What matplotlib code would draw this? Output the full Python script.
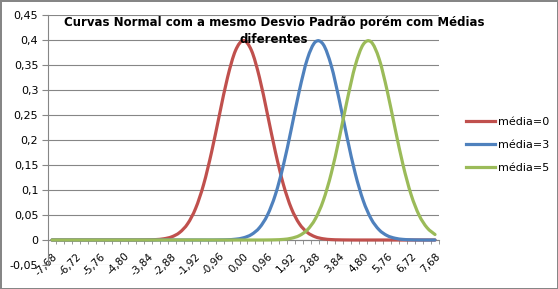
import matplotlib
matplotlib.use("Agg")
import matplotlib.pyplot as plt
from matplotlib.path import Path
from matplotlib.patches import PathPatch
from matplotlib.lines import Line2D

# categorias do eixo x (passo 0,32)
x_vals = [-7.68, -7.36, -7.04, -6.72, -6.40, -6.08, -5.76, -5.44, -5.12, -4.80,
          -4.48, -4.16, -3.84, -3.52, -3.20, -2.88, -2.56, -2.24, -1.92, -1.60,
          -1.28, -0.96, -0.64, -0.32, 0.00, 0.32, 0.64, 0.96, 1.28, 1.60,
          1.92, 2.24, 2.56, 2.88, 3.20, 3.52, 3.84, 4.16, 4.48, 4.80,
          5.12, 5.44, 5.76, 6.08, 6.40, 6.72, 7.04, 7.36, 7.68]

media0 = [0, 0, 0, 0, 0, 0, 0, 0, 0, 0,
          0, 0.0001, 0.0003, 0.0008, 0.0024, 0.0063, 0.0151, 0.0325, 0.0632, 0.1109,
          0.1759, 0.2516, 0.3251, 0.3790, 0.3989, 0.3790, 0.3251, 0.2516, 0.1759, 0.1109,
          0.0632, 0.0325, 0.0151, 0.0063, 0.0024, 0.0008, 0.0003, 0.0001, 0, 0,
          0, 0, 0, 0, 0, 0, 0, 0, 0]

media3 = [0, 0, 0, 0, 0, 0, 0, 0, 0, 0,
          0, 0, 0, 0, 0, 0, 0, 0, 0, 0,
          0, 0.0002, 0.0005, 0.0016, 0.0044, 0.0110, 0.0246, 0.0498, 0.0909, 0.1497,
          0.2227, 0.2989, 0.3621, 0.3961, 0.3910, 0.3485, 0.2803, 0.2036, 0.1334, 0.0790,
          0.0422, 0.0203, 0.0088, 0.0035, 0.0012, 0.0004, 0.0001, 0, 0]

media5 = [0, 0, 0, 0, 0, 0, 0, 0, 0, 0,
          0, 0, 0, 0, 0, 0, 0, 0, 0, 0,
          0, 0, 0, 0, 0, 0, 0, 0.0001, 0.0004, 0.0012,
          0.0035, 0.0088, 0.0203, 0.0422, 0.0790, 0.1334, 0.2036, 0.2803, 0.3485, 0.3910,
          0.3961, 0.3621, 0.2989, 0.2227, 0.1497, 0.0909, 0.0498, 0.0246, 0.0110]

series = [("média=0", media0, "#C0504D"),
          ("média=3", media3, "#4F81BD"),
          ("média=5", media5, "#9BBB59")]

y_ticks = [-0.05, 0, 0.05, 0.1, 0.15, 0.2, 0.25, 0.3, 0.35, 0.4, 0.45]
y_labels = ["-0,05", "0", "0,05", "0,1", "0,15", "0,2", "0,25", "0,3", "0,35", "0,4", "0,45"]

titulo = "Curvas Normal com a mesmo Desvio Padrão porém com Médias\ndiferentes"


def linha_suave(xs, ys):
    # linha suavizada estilo Excel (curvas de Bezier pelos pontos)
    n = len(xs)
    verts = [(xs[0], ys[0])]
    codes = [Path.MOVETO]
    for i in range(n - 1):
        i0 = max(i - 1, 0)
        i3 = min(i + 2, n - 1)
        c1 = (xs[i] + (xs[i + 1] - xs[i0]) / 6, ys[i] + (ys[i + 1] - ys[i0]) / 6)
        c2 = (xs[i + 1] - (xs[i3] - xs[i]) / 6, ys[i + 1] - (ys[i3] - ys[i]) / 6)
        verts += [c1, c2, (xs[i + 1], ys[i + 1])]
        codes += [Path.CURVE4] * 3
    return Path(verts, codes)


plt.rcParams['font.family'] = ['DejaVu Sans']

fig = plt.figure(figsize=(5.58, 2.89), dpi=100)
fig.patch.set_edgecolor("#868686")
fig.patch.set_linewidth(2)
ax = fig.add_axes([48 / 558, 24 / 289, 391 / 558, 250 / 289])

idx = list(range(len(x_vals)))
handles = []
for nome, vals, cor in series:
    ax.add_patch(PathPatch(linha_suave(idx, vals), fill=False, edgecolor=cor,
                           lw=2.3, capstyle="round", joinstyle="round", zorder=3))
    handles.append(Line2D([], [], color=cor, lw=2.3, label=nome))

ax.set_xlim(-0.5, len(x_vals) - 0.5)
ax.set_ylim(-0.05, 0.45)

grid_c = "#868686"
ax.set_yticks(y_ticks)
ax.set_yticklabels(y_labels, fontsize=8)
for v in y_ticks:
    ax.axhline(v, color=grid_c, lw=0.8, zorder=0)

for s in ["top", "right"]:
    ax.spines[s].set_visible(False)
ax.spines["left"].set_color(grid_c)
ax.spines["bottom"].set_color(grid_c)
ax.spines["bottom"].set_position(("data", 0))
ax.tick_params(axis="y", color=grid_c, length=4, pad=3)

# rótulos a cada 3 categorias, marcas entre categorias
lab_idx = idx[::3]
ax.set_xticks(lab_idx)
ax.set_xticklabels([f"{x_vals[i]:.2f}".replace(".", ",") for i in lab_idx],
                   rotation=45, ha="right", va="top", rotation_mode="anchor", fontsize=7.5)
ax.tick_params(axis="x", which="major", length=0, pad=8)
ax.set_xticks([i - 0.5 for i in range(len(x_vals) + 1)], minor=True)
ax.tick_params(axis="x", which="minor", length=3, color=grid_c)

fig.text(274 / 558, 1 - 31 / 289, titulo, ha="center", va="center",
         fontsize=8.5, fontweight="bold", linespacing=1.45)

ax.legend(handles=handles, loc="center left", bbox_to_anchor=(462 / 558, 1 - 145 / 289),
          bbox_transform=fig.transFigure, frameon=False, fontsize=8,
          handlelength=2.6, handletextpad=0.2, labelspacing=1.2, borderaxespad=0)

fig.savefig("out.png", dpi=100)
